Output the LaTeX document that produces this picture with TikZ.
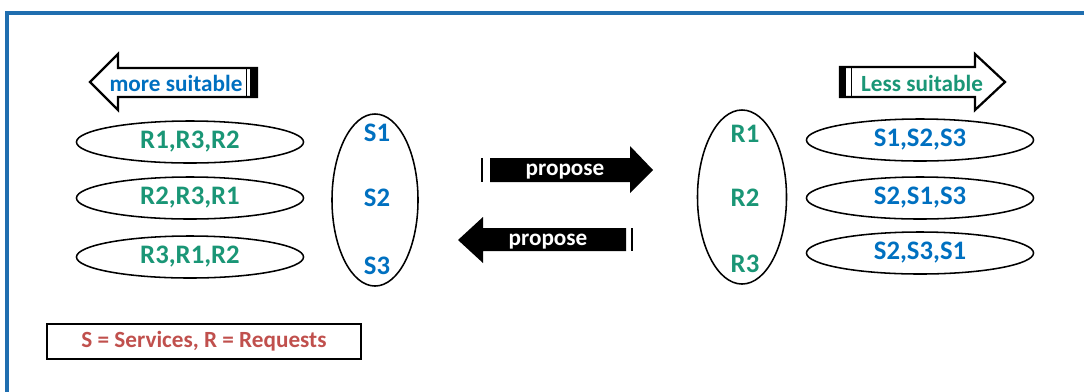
\documentclass[tikz,border=0pt]{standalone}
\usepackage{fontspec}
\setmainfont{Carlito}
\usetikzlibrary{shapes.geometric, calc}

\definecolor{frameblue}{RGB}{31,110,175}
\definecolor{textblue}{RGB}{0,112,192}
\definecolor{textgreen}{RGB}{26,150,118}
\definecolor{textred}{RGB}{192,80,77}

\begin{document}
\begin{tikzpicture}[x=0.025cm, y=-0.025cm,
pref_style/.style={ellipse, draw=black, line width=1.1pt, minimum width=5.675cm, minimum height=1.05cm, inner sep=0pt, font=\fontsize{19}{21}\selectfont\bfseries},
set_style/.style={ellipse, draw=black, line width=1.1pt, inner sep=0pt},
item_style/.style={inner sep=0pt, font=\fontsize{19}{21}\selectfont\bfseries},
hint_arrow/.style={draw=black, line width=1.6pt, fill=white, line join=miter},
propose_arrow/.style={fill=black, draw=none},
label_style/.style={inner sep=0pt, font=\fontsize{16.5}{18}\selectfont\bfseries},
]

\useasboundingbox (0,0) rectangle (1084,391);

% frame, open to the right and at the bottom
\draw[frameblue, line width=2.2pt] (7,400) -- (7,13) -- (1095,13);

% requests side: preference lists
\begin{scope}[xshift=0cm]
	\draw[hint_arrow] (90,82) -- (118,54) -- (118,68) -- (257,68) -- (257,97) -- (118,97) -- (118,110) -- cycle;
	\fill[black] (250,68) rectangle (257,97);
	\draw[black, line width=1pt] (246.5,68) -- (246.5,97);
	\node[label_style, text=textblue] at (176,83) (more) []{more suitable};

	\node[pref_style, text=textgreen] at (190,142) (pr1) []{R1,R3,R2};
	\node[pref_style, text=textgreen] at (190,198) (pr2) []{R2,R3,R1};
	\node[pref_style, text=textgreen] at (190,257) (pr3) []{R3,R1,R2};

	\node[set_style, minimum width=2.15cm, minimum height=4.3cm] at (375,200) (services) {};
	\node[item_style, text=textblue] at (377,133) (s1) []{S1};
	\node[item_style, text=textblue] at (377,198) (s2) []{S2};
	\node[item_style, text=textblue] at (377,266) (s3) []{S3};
\end{scope}

% proposals in both directions
\draw[black, line width=1.4pt] (482,158) -- (482,182);
\fill[propose_arrow] (490,158) -- (630,158) -- (630,146) -- (653,170) -- (630,193) -- (630,182) -- (490,182) -- cycle;
\node[label_style, white] at (565,172) (prop1) []{propose};

\draw[black, line width=1.4pt] (632,228) -- (632,251);
\fill[propose_arrow] (458,240) -- (483,217) -- (483,228) -- (626,228) -- (626,251) -- (483,251) -- (483,263) -- cycle;
\node[label_style, white] at (548,242) (prop2) []{propose};

% services side: preference lists
\begin{scope}[xshift=0cm]
	\node[set_style, minimum width=2.225cm, minimum height=4.35cm] at (742,197) (requests) {};
	\node[item_style, text=textgreen] at (745,134) (r1) []{R1};
	\node[item_style, text=textgreen] at (745,198) (r2) []{R2};
	\node[item_style, text=textgreen] at (745,264) (r3) []{R3};

	\node[pref_style, text=textblue] at (920,140) (ps1) []{S1,S2,S3};
	\node[pref_style, text=textblue] at (920,198) (ps2) []{S2,S1,S3};
	\node[pref_style, text=textblue] at (920,253) (ps3) []{S2,S3,S1};

	\draw[hint_arrow] (840,67) -- (975,67) -- (975,54) -- (1005,82) -- (975,110) -- (975,97) -- (840,97) -- cycle;
	\fill[black] (840,67) rectangle (846,97);
	\draw[black, line width=1pt] (851.5,67) -- (851.5,97);
	\node[label_style, text=textgreen] at (922,83) (less) []{Less suitable};
\end{scope}

\node[draw=black, line width=0.9pt, minimum width=7.85cm, minimum height=0.875cm, font=\fontsize{16.5}{18}\selectfont\bfseries, text=textred] at (204,341.5) (legend) []{S = Services, R = Requests};

\end{tikzpicture}
\end{document}
